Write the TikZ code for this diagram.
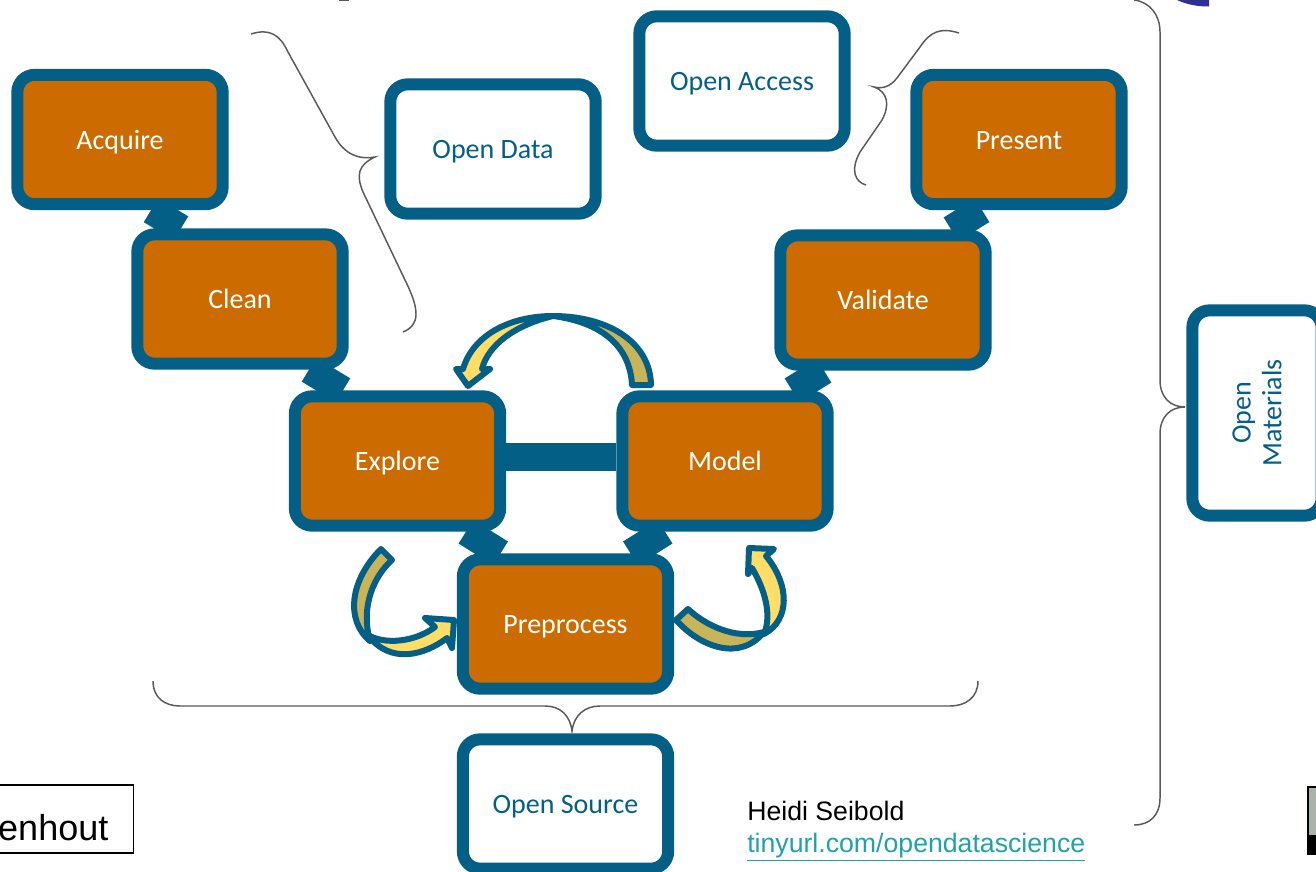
\documentclass[tikz,border=0pt]{standalone}
\usepackage{fontspec}
\setmainfont{Carlito}
\newfontfamily\arialfont{Liberation Sans}
\usetikzlibrary{backgrounds,calc}
\definecolor{boxblue}{HTML}{045F86}
\definecolor{stageorange}{HTML}{CC6C00}
\definecolor{bracegray}{HTML}{595959}
\definecolor{lightgold}{HTML}{FFDD66}
\definecolor{darkgold}{HTML}{C9B458}
\definecolor{linkteal}{HTML}{1FA3A8}
\definecolor{logoblue}{HTML}{2E3192}
\definecolor{cutgray}{HTML}{AAB2AB}
\tikzset{
    openbox/.style={draw=boxblue,line width=9pt,rounded corners=13pt,fill=white,text=boxblue,
        minimum width=154pt,minimum height=97pt,align=center,font=\fontsize{21}{23}\selectfont,
        text height=14.5pt,text depth=0pt},
    stage/.style={openbox,fill=stageorange,text=white},
    link/.style={draw=boxblue,line width=21pt},
    bracket/.style={draw=bracegray,line width=1.1pt},
    arrowback/.style={draw=boxblue,line width=4.5pt,line join=round,fill=darkgold},
    arrowfront/.style={draw=boxblue,line width=4.5pt,line join=round,fill=lightgold}
}
\begin{document}
\begin{tikzpicture}[x=0.75pt,y=-0.75pt]
    \useasboundingbox (0,0) rectangle (1316,871);
    \clip (0,0) rectangle (1316,871);
    \node[stage] (acquire) at (120,139.5) {Acquire};
    \node[stage] (clean) at (240,299) {Clean};
    \node[stage] (explore) at (397.5,461) {Explore};
    \node[stage] (model) at (725,461) {Model};
    \node[stage] (preprocess) at (565.5,624) {Preprocess};
    \node[stage] (validate) at (883,300) {Validate};
    \node[stage] (present) at (1019,139.5) {Present};
    \node[openbox] (opendata) at (493,149) {Open Data};
    \node[openbox] (openaccess) at (742,81) {Open Access};
    \node[openbox] (opensource) at (565.5,804) {Open Source};
    \node[openbox,rotate=90,text height=,text depth=] (openmaterials) at (1257,413) {Open\\Materials};
    \node[draw=black,line width=1pt,anchor=east,inner xsep=18.75pt,inner ysep=0pt,
        font=\arialfont\fontsize{27}{29}\selectfont,text height=41.8pt,text depth=9.2pt] (author) at (134,819) {enhout};
    \node[anchor=north west,inner sep=0pt,align=left,font=\arialfont\fontsize{20}{24}\selectfont] (credit) at (747,801)
        {Heidi Seibold\\{\color{linkteal}\underline{tinyurl.com/opendatascience}}};
    \begin{scope}[on background layer]
        \draw[link] ($(acquire.south)+(31,0)$) -- ($(clean.north)+(-59,0)$);
        \draw[link] ($(clean.south)+(69,0)$) -- ($(explore.north)+(-54.5,0)$);
        \draw[link] ($(explore.east)+(0,-4)$) -- ($(model.west)+(0,-4)$);
        \draw[link] ($(explore.south)+(68.5,0)$) -- ($(preprocess.north)+(-65,0)$);
        \draw[link] ($(model.south)+(-60,0)$) -- ($(preprocess.north)+(65,0)$);
        \draw[link] ($(model.north)+(67,0)$) -- ($(validate.south)+(-59,0)$);
        \draw[link] ($(validate.north)+(68,0)$) -- ($(present.south)+(-37,0)$);
    \end{scope}
    % curved arrows
    \draw[arrowback] (632,385) -- (651,385) .. controls (650,340) and (605,316) .. (553,316)
        .. controls (600,322) and (630,345) .. (632,385) -- cycle;
    \draw[arrowfront] (553,316) .. controls (510,316) and (473,335) .. (463,369) -- (456,369) -- (468,386) -- (490,369) -- (482,369)
        .. controls (488,345) and (515,325) .. (553,316) -- cycle;
    \draw[arrowback] (381,549) -- (392,560) .. controls (375,575) and (360,605) .. (370,641)
        .. controls (345,620) and (350,580) .. (381,549) -- cycle;
    \draw[arrowfront] (368,635) .. controls (385,645) and (415,642) .. (435,627) -- (425,618) -- (454,620) -- (452,648) -- (447,638)
        .. controls (425,655) and (390,665) .. (368,635) -- cycle;
    \draw[arrowback] (676,620) -- (688,609) .. controls (705,625) and (735,640) .. (764,632)
        .. controls (740,662) and (700,647) .. (676,620) -- cycle;
    \draw[arrowfront] (764,634) .. controls (772,615) and (765,590) .. (752,568) -- (748,574) -- (749,548) -- (774,549) -- (766,556)
        .. controls (790,585) and (790,620) .. (764,634) -- cycle;
    % braces
    \draw[bracket] (251,34) .. controls (270,28) and (280,35) .. (288,52) -- (335,137) .. controls (345,155) and (360,160) .. (375,157)
        .. controls (358,165) and (356,175) .. (363,192) -- (405,280) .. controls (420,310) and (420,325) .. (403,332);
    \draw[bracket] (959,33) .. controls (940,27) and (930,32) .. (920,47) -- (897,78) .. controls (890,87) and (882,89) .. (874,87)
        .. controls (888,92) and (890,105) .. (882,120) -- (860,152) .. controls (850,170) and (855,182) .. (866,185);
    \draw[bracket] (153,681) .. controls (153,698) and (165,706) .. (180,706) -- (545,706) .. controls (560,706) and (570,715) .. (572,731)
        .. controls (574,715) and (585,706) .. (600,706) -- (950,706) .. controls (965,706) and (978,698) .. (978,681);
    \draw[bracket] (1134,0) .. controls (1150,2) and (1160,15) .. (1160,32) -- (1160,380) .. controls (1160,397) and (1170,407) .. (1185,407)
        .. controls (1170,407) and (1160,417) .. (1160,434) -- (1160,798) .. controls (1160,815) and (1150,825) .. (1134,825);
    % cut off at the edges
    \fill[logoblue] (1177,0) .. controls (1188,5) and (1198,6.5) .. (1209,6.5) -- (1209,0) -- cycle;
    \fill[bracegray] (339,0) rectangle (349,1);
    \fill[black] (1307,786) rectangle (1316,855);
    \fill[cutgray] (1309,788) rectangle (1316,835);
\end{tikzpicture}
\end{document}
